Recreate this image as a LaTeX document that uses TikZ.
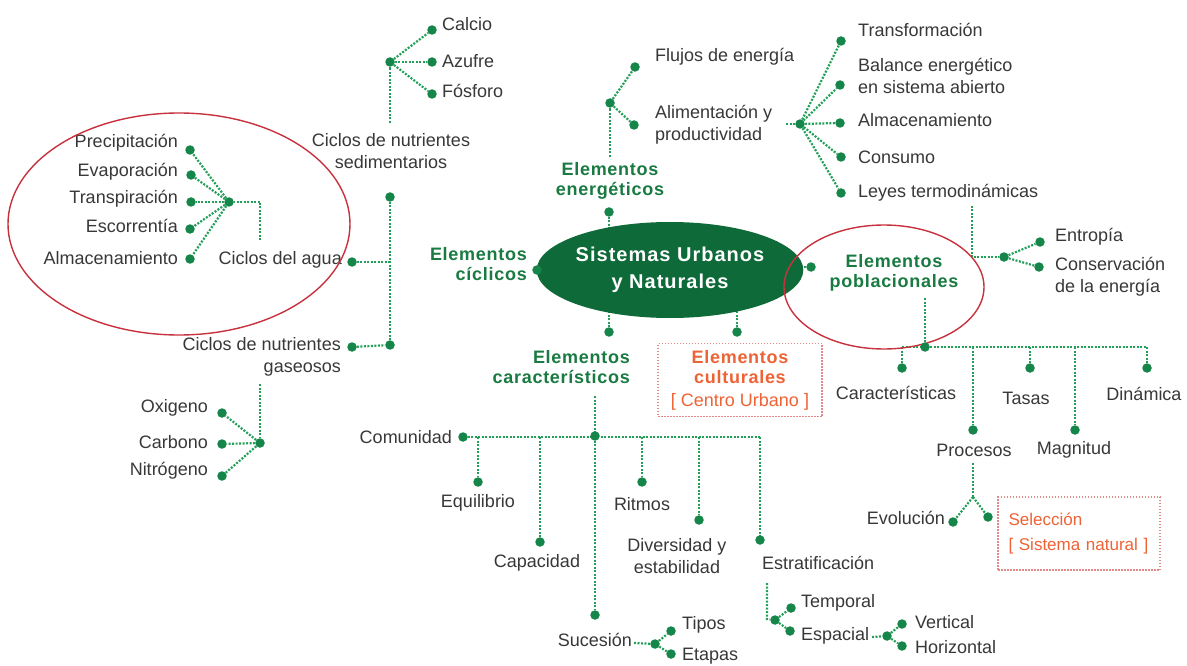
\documentclass[tikz,border=0pt]{standalone}
\usepackage{fontspec}
\setmainfont{Liberation Sans}
\usetikzlibrary{shapes.geometric}
\pgfdeclarelayer{bg}
\pgfsetlayers{bg,main}
\definecolor{lgreen}{HTML}{23A058}
\definecolor{dotgreen}{HTML}{15854A}
\definecolor{ellgreen}{HTML}{0E6A39}
\definecolor{tgreen}{HTML}{197A42}
\definecolor{tgray}{HTML}{383838}
\definecolor{orng}{HTML}{EE6335}
\definecolor{boxred}{HTML}{E08A8A}
\definecolor{ringred}{HTML}{C8323E}
\newcommand\hdtxt[1]{{\bfseries\addfontfeature{LetterSpace=4}#1}}
\begin{document}
\begin{tikzpicture}[x=1pt,y=-1pt,
 dl/.style={draw=lgreen,line width=2.2pt,dash pattern=on 2pt off 1.5pt},
 pt/.style={circle,fill=dotgreen,inner sep=0pt,minimum size=9.5pt},
 lbl/.style={inner sep=0pt,text=tgray,font=\fontsize{18}{22}\selectfont},
 lbll/.style={lbl,anchor=west,align=left},
 lblr/.style={lbl,anchor=east,align=right},
 lblc/.style={lbl,align=center},
 head/.style={inner sep=0pt,text=tgreen,font=\fontsize{18}{20}\selectfont\bfseries\addfontfeature{LetterSpace=4}},
 ring/.style={ellipse,draw=ringred,line width=1.4pt,inner sep=0pt},
 obox/.style={draw=boxred,line width=1.2pt,dash pattern=on 1.5pt off 1.5pt,text=orng,font=\fontsize{18}{20}\selectfont},
]
\useasboundingbox (0,0) rectangle (1187,666);

% centre
\node[ellipse,fill=ellgreen,minimum width=228pt,minimum height=96pt,inner sep=0pt,text=white,align=center,
  font=\fontsize{20}{27}\selectfont\bfseries\addfontfeature{LetterSpace=5}] (c) at (670,270) {Sistemas Urbanos\\y Naturales};

% ---------- energeticos ----------
\node[pt] (dE) at (609,212) {};
\node[head,align=center] (tE) at (610,181) {Elementos\\energéticos};
\coordinate (eTop) at (610,157);
\node[pt] (hE) at (610,103) {};
\node[pt] (dF) at (635,67) {};
\node[pt] (dA) at (634,125) {};
\node[lbll] (tF) at (655,57) {Flujos de energía};
\node[lbll] (tA) at (655,125) {Alimentación y\\productividad};
\coordinate (aEnd) at (786,124);
\node[pt] (hA) at (800,124) {};
\node[pt] (d1) at (841,41) {};
\node[pt] (d2) at (840,85) {};
\node[pt] (d3) at (840,123) {};
\node[pt] (d4) at (841,157) {};
\node[pt] (d5) at (841,193) {};
\node[lbll] (t1) at (858,30) {Transformación};
\node[lbll] (t2) at (858,76) {Balance energético\\en sistema abierto};
\node[lbll] (t3) at (858,120) {Almacenamiento};
\node[lbll] (t4) at (858,157) {Consumo};
\node[lbll] (t5) at (858,193) {Leyes termodinámicas};
\coordinate (lv1) at (972,206);
\coordinate (lv2) at (972,257);
\node[pt] (hL) at (1004,257) {};
\node[pt] (dEn) at (1040,242) {};
\node[pt] (dCo) at (1039,267) {};
\node[lbll] (tEn) at (1055,237) {Entropía};
\node[lbll] (tCo) at (1055,277) {Conservación\\de la energía};

% ---------- ciclicos ----------
\node[pt] (dC) at (537,270) {};
\node[head,anchor=east,align=right] (tC) at (527,264) {Elementos\\cíclicos};

\node[pt] (hS) at (390,62) {};
\node[pt] (dCa) at (432,30) {};
\node[pt] (dAz) at (432,62) {};
\node[pt] (dFo) at (432,94) {};
\node[lbll] (tCa) at (442,24) {Calcio};
\node[lbll] (tAz) at (442,61) {Azufre};
\node[lbll] (tFo) at (442,91) {Fósforo};
\coordinate (sBot) at (390,123);
\node[lblc] (tS) at (391,151) {Ciclos de nutrientes\\sedimentarios};
\node[pt] (dS) at (390,197) {};
\node[pt] (dGb) at (390,345) {};
\coordinate (jW) at (390,262);
\node[pt] (dW) at (352,262) {};
\node[lblr] (tW) at (342,260) {Ciclos del agua};
\node[pt] (dGa) at (352,347) {};
\node[lblr] (tG) at (341,357) {Ciclos de nutrientes\\gaseosos};

\node[pt] (hW) at (229,202) {};
\coordinate (wA) at (260,202);
\coordinate (wB) at (260,240);
\node[pt] (p1) at (190,150) {};
\node[pt] (p2) at (191,175) {};
\node[pt] (p3) at (191,202) {};
\node[pt] (p4) at (190,229) {};
\node[pt] (p5) at (190,259) {};
\node[lblr] (tp1) at (178,143) {Precipitación};
\node[lblr] (tp2) at (178,172) {Evaporación};
\node[lblr] (tp3) at (178,199) {Transpiración};
\node[lblr] (tp4) at (178,226) {Escorrentía};
\node[lblr] (tp5) at (178,258) {Almacenamiento};
\node[ring,minimum width=342pt,minimum height=222pt] (rW) at (179,224) {};

\coordinate (gTop) at (260,384);
\node[pt] (hG) at (260,443) {};
\node[pt] (o1) at (222,413) {};
\node[pt] (o2) at (222,444) {};
\node[pt] (o3) at (222,476) {};
\node[lblr] (to1) at (208,408) {Oxigeno};
\node[lblr] (to2) at (208,442) {Carbono};
\node[lblr] (to3) at (208,471) {Nitrógeno};

% ---------- caracteristicos ----------
\node[pt] (dK) at (609,332) {};
\node[head,anchor=east,align=right] (tK) at (630,367) {Elementos\\característicos};
\coordinate (kTop) at (595,396);
\node[pt] (hK) at (595,436) {};
\node[pt] (dSuc) at (595,615) {};
\node[pt] (dCom) at (463,437) {};
\coordinate (kR) at (760,437);
\coordinate (j1) at (478,437);
\coordinate (j2) at (540,437);
\coordinate (j3) at (642,437);
\coordinate (j4) at (699,437);
\node[pt] (dEq) at (478,482) {};
\node[pt] (dCap) at (540,542) {};
\node[pt] (dRit) at (642,482) {};
\node[pt] (dDiv) at (699,520) {};
\node[pt] (dEst) at (760,540) {};
\node[lblr] (tCom) at (452,437) {Comunidad};
\node[lblc] (tEq) at (478,503) {Equilibrio};
\node[lblc] (tCap) at (537,563) {Capacidad};
\node[lblc] (tRit) at (642,504) {Ritmos};
\node[lblc] (tDiv) at (677,556) {Diversidad y\\estabilidad};
\node[lbll] (tEst) at (762,563) {Estratificación};

\node[lblr] (tSuc) at (632,640) {Sucesión};
\coordinate (sucE) at (634,643);
\node[pt] (hSu) at (655,644) {};
\node[pt] (dTi) at (671,631) {};
\node[pt] (dEt) at (671,654) {};
\node[lbll] (tTi) at (682,625) {Tipos};
\node[lbll] (tEt) at (682,656) {Etapas};

\coordinate (eT) at (767,583);
\coordinate (eB) at (767,619);
\node[pt] (hEs) at (775,620) {};
\node[pt] (dTe) at (791,608) {};
\node[pt] (dEs) at (790,631) {};
\node[lbll] (tTe) at (801,603) {Temporal};
\node[lbll] (tEs) at (801,636) {Espacial};
\coordinate (esE) at (872,637);
\node[pt] (hEp) at (887,636) {};
\node[pt] (dVe) at (902,624) {};
\node[pt] (dHo) at (902,646) {};
\node[lbll] (tVe) at (915,622) {Vertical};
\node[lbll] (tHo) at (915,647) {Horizontal};

% ---------- culturales ----------
\node[pt] (dU) at (737,332) {};
\node[obox,align=center,minimum width=164pt,minimum height=73pt,inner sep=0pt] (bU) at (740,380)
 {\hdtxt{Elementos}\\\hdtxt{culturales}\\[3pt]{[} Centro Urbano {]}};

% ---------- poblacionales ----------
\node[pt] (dP) at (811,267) {};
\node[head,align=center] (tP) at (894,273) {Elementos\\poblacionales};
\node[ring,minimum width=200pt,minimum height=124pt] (rP) at (884,287) {};
\coordinate (pT) at (925,298);
\node[pt] (hP) at (925,347) {};
\coordinate (pL) at (902,347);
\coordinate (pR) at (1147,347);
\coordinate (q2) at (973,347);
\coordinate (q3) at (1030,347);
\coordinate (q4) at (1075,347);
\node[pt] (dCar) at (902,368) {};
\node[pt] (dProc) at (973,430) {};
\node[pt] (dTas) at (1030,368) {};
\node[pt] (dMag) at (1075,430) {};
\node[pt] (dDin) at (1147,368) {};
\node[lblc] (tCar) at (896,393) {Características};
\node[lblc] (tTas) at (1026,398) {Tasas};
\node[lblc] (tDin) at (1144,394) {Dinámica};
\node[lblc] (tProc) at (974,450) {Procesos};
\node[lblc] (tMag) at (1074,450) {Magnitud};
\coordinate (prT) at (973,463);
\coordinate (prB) at (973,497);
\node[pt] (dEvo) at (953,522) {};
\node[pt] (dSel) at (988,517) {};
\node[lblr] (tEvo) at (945,518) {Evolución};
\node[obox,align=left,text width=141pt,minimum width=162pt,minimum height=73pt,inner xsep=10.5pt,inner ysep=0pt,font=\fontsize{17}{25}\selectfont] (bS) at (1079,533.5)
 {Selección\\{[} Sistema natural {]}};

% ---------- connectors ----------
\begin{pgfonlayer}{bg}
\fill[white] (0,0) rectangle (1187,666);
\draw[dl] (dE) -- (dE |- c.center);
\draw[dl] (dC) -- (dC -| c.center);
\draw[dl] (dP) -- (dP -| c.center);
\draw[dl] (dK) -- (dK |- c.center);
\draw[dl] (dU) -- (dU |- c.center);

\draw[dl] (eTop) -- (hE);
\draw[dl] (hE) -- (dF);
\draw[dl] (hE) -- (dA);
\draw[dl] (aEnd) -- (hA);
\foreach \d in {d1,d2,d3,d4,d5} \draw[dl] (hA) -- (\d);
\draw[dl] (lv1) -- (lv2) -- (hL);
\draw[dl] (hL) -- (dEn);
\draw[dl] (hL) -- (dCo);

\draw[dl] (sBot) -- (hS);
\foreach \d in {dCa,dAz,dFo} \draw[dl] (hS) -- (\d);
\draw[dl] (dS) -- (dGb);
\draw[dl] (dW) -- (jW);
\draw[dl] (dGa) -- (dGb);
\draw[dl] (wB) -- (wA) -- (hW);
\foreach \d in {p1,p2,p3,p4,p5} \draw[dl] (hW) -- (\d);
\draw[dl] (gTop) -- (hG);
\foreach \d in {o1,o2,o3} \draw[dl] (hG) -- (\d);

\draw[dl] (kTop) -- (hK) -- (dSuc);
\draw[dl] (dCom) -- (kR);
\draw[dl] (j1) -- (dEq);
\draw[dl] (j2) -- (dCap);
\draw[dl] (j3) -- (dRit);
\draw[dl] (j4) -- (dDiv);
\draw[dl] (kR) -- (dEst);
\draw[dl] (sucE) -- (hSu);
\draw[dl] (hSu) -- (dTi);
\draw[dl] (hSu) -- (dEt);
\draw[dl] (eT) -- (eB) -- (hEs);
\draw[dl] (hEs) -- (dTe);
\draw[dl] (hEs) -- (dEs);
\draw[dl] (esE) -- (hEp);
\draw[dl] (hEp) -- (dVe);
\draw[dl] (hEp) -- (dHo);

\draw[dl] (pT) -- (hP);
\draw[dl] (pL) -- (pR);
\draw[dl] (pL) -- (dCar);
\draw[dl] (q2) -- (dProc);
\draw[dl] (q3) -- (dTas);
\draw[dl] (q4) -- (dMag);
\draw[dl] (pR) -- (dDin);
\draw[dl] (prT) -- (prB);
\draw[dl] (prB) -- (dEvo);
\draw[dl] (prB) -- (dSel);
\end{pgfonlayer}
\end{tikzpicture}
\end{document}
